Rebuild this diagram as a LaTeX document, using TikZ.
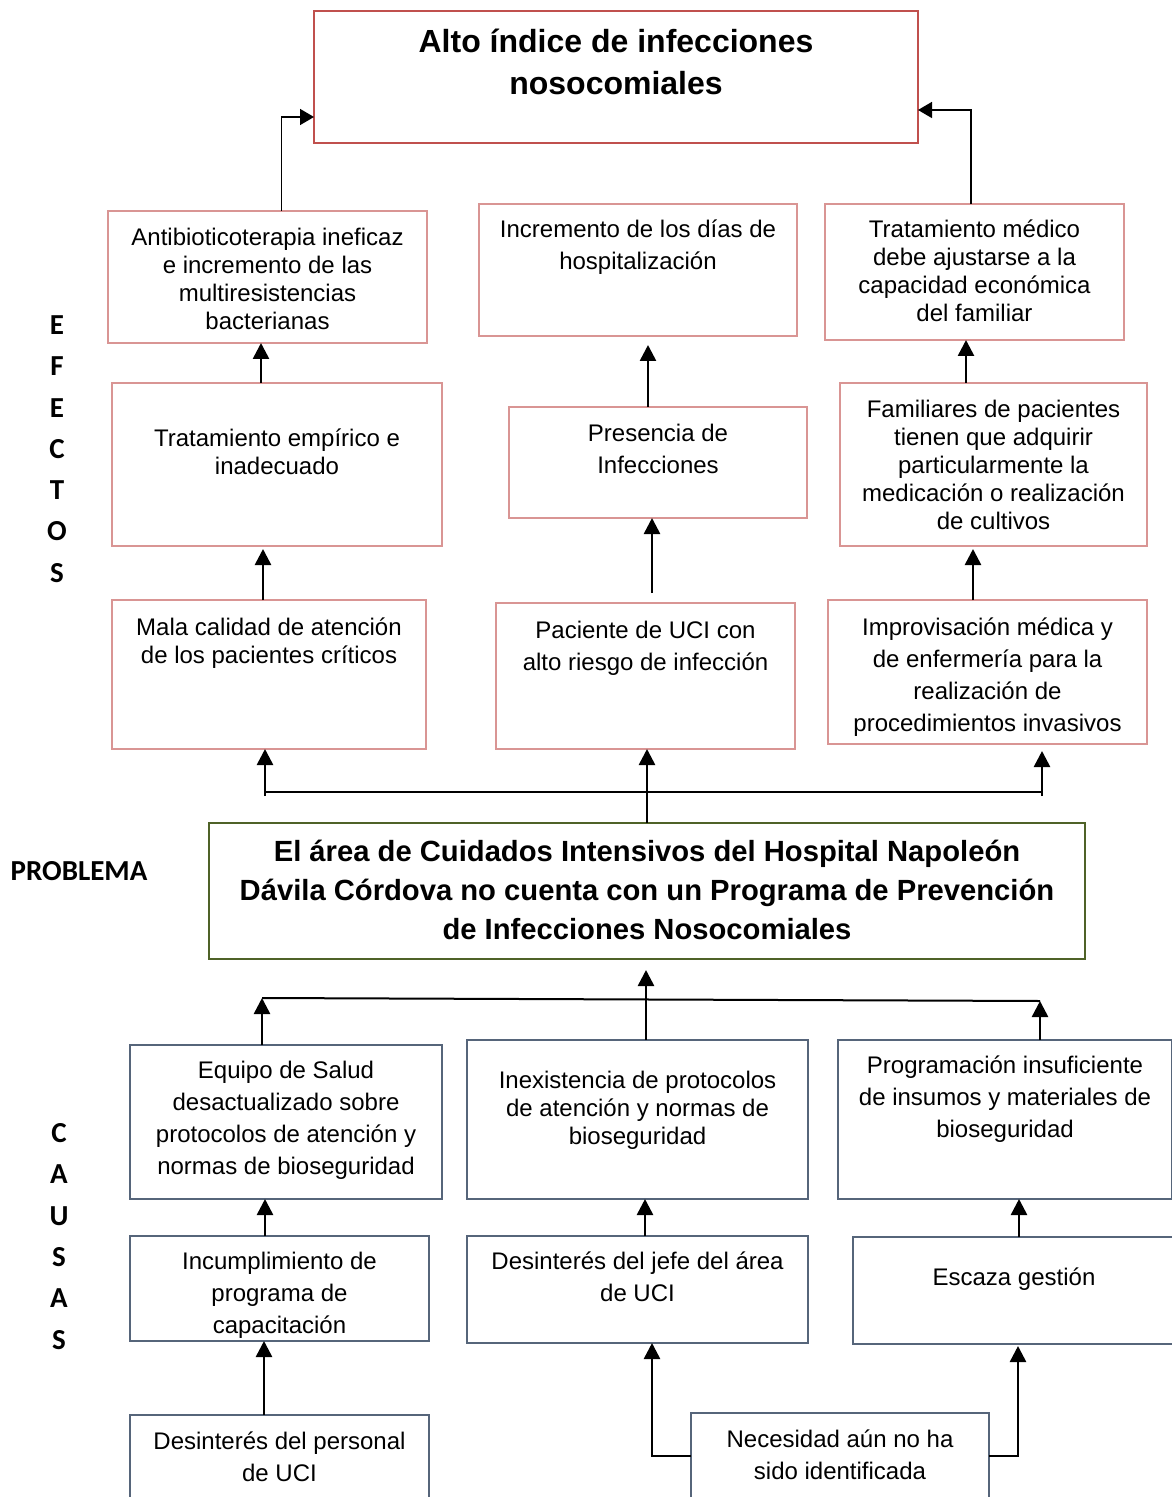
\documentclass[tikz,border=0pt]{standalone}
\usepackage{fontspec}
\setmainfont{Liberation Sans}
\newfontfamily\sidefont{Carlito}
\usepackage{xcolor}
\usetikzlibrary{arrows.meta,positioning}
\definecolor{ttlred}{HTML}{C0504D}
\definecolor{effred}{HTML}{D99594}
\definecolor{probgreen}{HTML}{4F6228}
\definecolor{causegray}{HTML}{56657A}
\newdimen\pxu \pxu=0.5pt
\newcommand{\celltext}[4]{\begin{minipage}[t][#2\pxu][t]{#1\pxu}\centering\vspace*{\dimexpr#3\pxu-19pt\relax}\rule{0pt}{20pt}#4\end{minipage}}
\tikzset{
  basebox/.style={anchor=north west, inner sep=0pt, outer sep=0pt},
  tbox/.style={basebox, draw=ttlred, line width=1.3pt, font=\bfseries\fontsize{16}{21}\selectfont},
  ebox/.style={basebox, draw=effred, line width=1pt, font=\fontsize{12}{14}\selectfont},
  pbox/.style={basebox, draw=probgreen, line width=1pt, font=\bfseries\fontsize{14.6}{19.5}\selectfont},
  cbox/.style={basebox, draw=causegray, line width=0.7pt, font=\fontsize{12}{16}\selectfont},
  wide/.style={font=\fontsize{12}{16}\selectfont},
  tight/.style={font=\fontsize{12}{14}\selectfont},
  side/.style={font=\sidefont\bfseries\fontsize{14.5}{20.65}\selectfont, align=center, inner sep=0pt},
  farr/.style={-{Triangle[width=8pt,length=8pt]}, line width=1.3pt},
  tarr/.style={-{Triangle[width=8pt,length=7pt]}, line width=0.8pt},
  fline/.style={line width=1pt}
}
\begin{document}
\begin{tikzpicture}[x=0.5pt, y=-0.5pt]
\useasboundingbox (0,0) rectangle (1171,1497);
% efectos
\node[tbox] (ttl) at (314,11) {\celltext{604}{132}{40}{Alto índice de infecciones\\nosocomiales}};
\node[ebox] (a1) at (108,211) {\celltext{319}{132}{33}{Antibioticoterapia ineficaz\\e incremento de las\\multiresistencias\\bacterianas}};
\node[ebox, wide] (a2) at (479,204) {\celltext{318}{132}{32}{Incremento de los días de\\hospitalización}};
\node[ebox] (a3) at (825,204) {\celltext{299}{136}{32}{Tratamiento médico\\debe ajustarse a la\\capacidad económica\\del familiar}};
\node[ebox] (b1) at (112,383) {\celltext{330}{163}{62}{Tratamiento empírico e\\inadecuado}};
\node[ebox, wide] (b2) at (509,407) {\celltext{298}{111}{33}{Presencia de\\Infecciones}};
\node[ebox] (b3) at (840,383) {\celltext{307}{163}{33}{Familiares de pacientes\\tienen que adquirir\\particularmente la\\medicación o realización\\de cultivos}};
\node[ebox] (c1) at (112,600) {\celltext{314}{149}{33}{Mala calidad de atención\\de los pacientes críticos}};
\node[ebox, wide] (c2) at (496,603) {\celltext{299}{146}{33}{Paciente de UCI con\\alto riesgo de infección}};
\node[ebox, wide] (c3) at (828,600) {\celltext{319}{144}{33}{Improvisación médica y\\de enfermería para la\\realización de\\procedimientos invasivos}};
% problema
\node[pbox] (prob) at (209,823) {\celltext{876}{136}{36}{El área de Cuidados Intensivos del Hospital Napoleón\\Dávila Córdova no cuenta con un Programa de Prevención\\de Infecciones Nosocomiales}};
% causas
\node[cbox] (d1) at (130,1045) {\celltext{312}{154}{31}{Equipo de Salud\\desactualizado sobre\\protocolos de atención y\\normas de bioseguridad}};
\node[cbox, tight] (d2) at (467,1040) {\celltext{341}{159}{46}{Inexistencia de protocolos\\de atención y normas de\\bioseguridad}};
\node[cbox] (d3) at (838,1040) {\celltext{334}{159}{31}{Programación insuficiente\\de insumos y materiales de\\bioseguridad}};
\node[cbox] (e1) at (130,1236) {\celltext{299}{105}{31}{Incumplimiento de\\programa de\\capacitación}};
\node[cbox] (e2) at (467,1236) {\celltext{341}{107}{31}{Desinterés del jefe del área\\de UCI}};
\node[cbox] (e3) at (853,1237) {\celltext{322}{107}{46}{Escaza gestión}};
\node[cbox] (f1) at (130,1415) {\celltext{299}{95}{32}{Desinterés del personal\\de UCI}};
\node[cbox] (f2) at (691,1413) {\celltext{298}{97}{32}{Necesidad aún no ha\\sido identificada}};
% etiquetas laterales
\node[side] (lefe) at (57,449) {E\\F\\E\\C\\T\\O\\S};
\node[side] (lprob) at (79,871) {PROBLEMA};
\node[side] (lcau) at (59,1236.5) {C\\A\\U\\S\\A\\S};
% flechas efectos
\draw[tarr] ([xshift=7pt]a1.north) |- ([yshift=13pt]ttl.south west);
\draw[tarr] ([xshift=-1.75pt]a3.north) |- ([yshift=16.5pt]ttl.south east);
\draw[farr] ([xshift=-8pt]b1.north) -- ([xshift=-8pt]b1.north |- a1.south);
\draw[farr, shorten >=4.5pt] ([xshift=-5pt]b2.north) -- ([xshift=-5pt]b2.north |- a2.south);
\draw[farr] ([xshift=-13.75pt]b3.north) -- ([xshift=-13.75pt]b3.north |- a3.south);
\draw[farr, shorten >=1.5pt] ([xshift=-3pt]c1.north) -- ([xshift=-3pt]c1.north |- b1.south);
\draw[farr, shorten <=5pt] ([xshift=3.25pt]c2.north) -- ([xshift=3.25pt]c2.north |- b2.south);
\draw[farr, shorten >=1.5pt] ([xshift=-7.25pt]c3.north) -- ([xshift=-7.25pt]c3.north |- b3.south);
\coordinate (bl) at (265,796); \coordinate (br) at (1042,796);
\draw[fline] ([yshift=2pt]bl) -- ([yshift=2pt]br);
\draw[farr] (bl) -- (bl |- c1.south);
\draw[farr, shorten >=3.5pt] (br) -- (br |- c3.south);
\draw[farr] (prob.north) -- (prob.north |- c2.south);
% flechas causas
\coordinate (cl) at (262,998); \coordinate (cr) at (1040,1001);
\draw[fline] (cl) -- (cr);
\draw[farr] ([xshift=-12pt]d1.north) -- (cl);
\draw[farr] ([xshift=17.5pt]d3.north) -- (cr);
\draw[farr, shorten >=5.5pt] ([xshift=4.25pt]d2.north) -- ([xshift=4.25pt]d2.north |- prob.south);
\draw[farr] ([xshift=-7.25pt]e1.north) -- ([xshift=-7.25pt]e1.north |- d1.south);
\draw[farr] ([xshift=3.75pt]e2.north) -- ([xshift=3.75pt]e2.north |- d2.south);
\draw[farr] ([xshift=2.5pt]e3.north) -- ([xshift=2.5pt]e3.north |- d3.south);
\draw[farr] ([xshift=-7.75pt]f1.north) -- ([xshift=-7.75pt]f1.north |- e1.south);
\draw[farr] ([yshift=-21.5pt]f2.north west) -| ([xshift=7.25pt]e2.south);
\draw[farr, shorten >=1pt] ([yshift=-21.5pt]f2.north east) -| ([xshift=2pt]e3.south);
\end{tikzpicture}
\end{document}
